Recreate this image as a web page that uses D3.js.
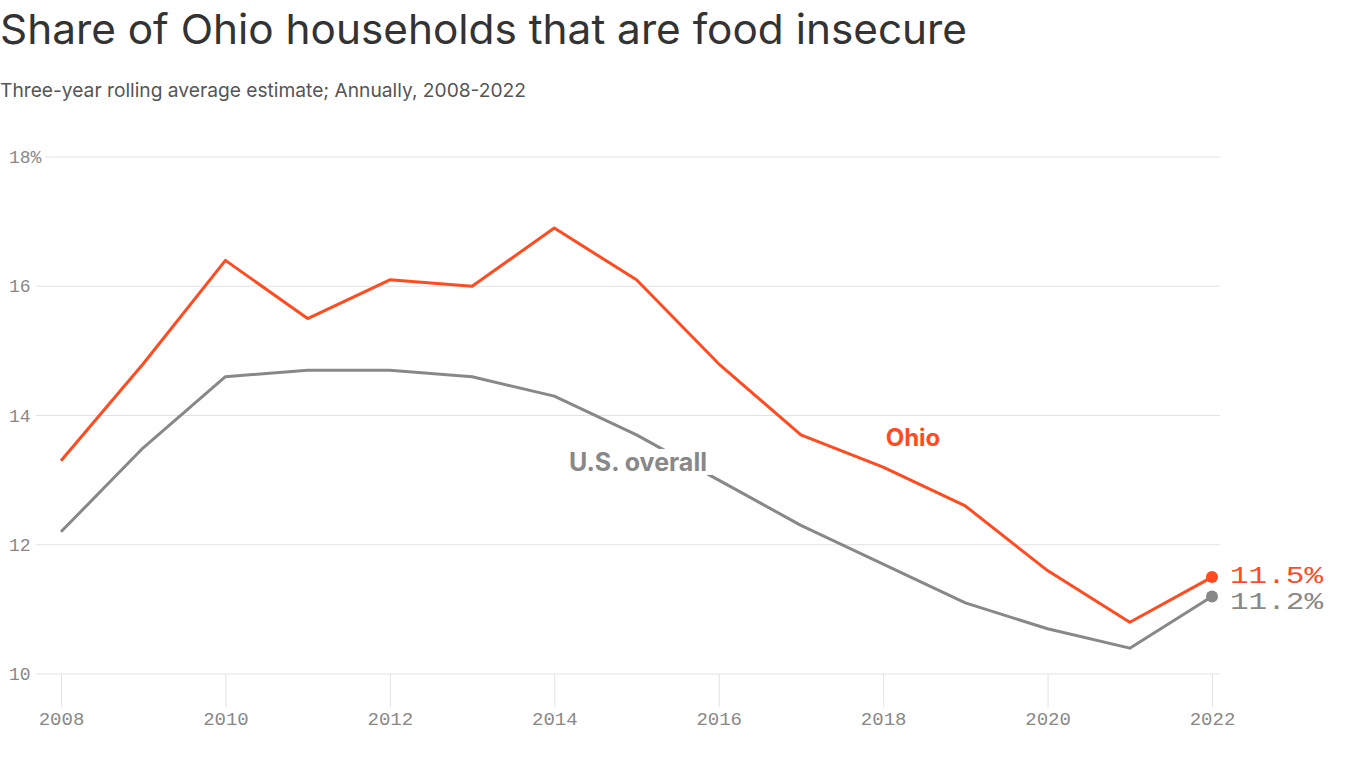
<!DOCTYPE html>
<html><head><meta charset="utf-8">
<script src="https://cdn.jsdelivr.net/npm/d3@7"></script>
<style>
body{margin:0;background:#fff;}
svg{display:block;}
</style></head>
<body>
<svg id="chart" width="1366" height="768"></svg>
<script>
const years = [2008,2009,2010,2011,2012,2013,2014,2015,2016,2017,2018,2019,2020,2021,2022];
const ohio = [13.3,14.8,16.4,15.5,16.1,16.0,16.9,16.1,14.8,13.7,13.2,12.6,11.6,10.8,11.5];
const us   = [12.2,13.5,14.6,14.7,14.7,14.6,14.3,13.7,13.0,12.3,11.7,11.1,10.7,10.4,11.2];
const yTicks = [10,12,14,16,18];
const xTicks = [2008,2010,2012,2014,2016,2018,2020,2022];
const title = "Share of Ohio households that are food insecure";
const subtitle = "Three-year rolling average estimate; Annually, 2008-2022";

const ORANGE = "#ff4b1f", GRAY = "#888888";
const mono = "'Liberation Mono', 'DejaVu Sans Mono', monospace";
const sans = "Inter, Roboto, 'Noto Sans', sans-serif";

const svg = d3.select("#chart");
const x = d3.scaleLinear().domain([2008,2022]).range([61,1212]);
const y = d3.scaleLinear().domain([10,18]).range([674,157]);

// title
svg.append("text").attr("x",0).attr("y",44)
  .attr("font-family",sans).attr("font-size",41).attr("fill","#333")
  .attr("textLength",967).attr("lengthAdjust","spacingAndGlyphs").text(title);
svg.append("text").attr("x",0).attr("y",97)
  .attr("font-family",sans).attr("font-size",19).attr("fill","#555")
  .attr("textLength",526).attr("lengthAdjust","spacingAndGlyphs")
  .text(subtitle);

// y grid + labels
const gridG = svg.append("g");
const ylabG = svg.append("g");
yTicks.forEach(v=>{
  const lbl = ylabG.append("text").attr("x",9).attr("y",y(v)+6)
    .attr("font-family",mono).attr("font-size",18).attr("fill","#888")
    .text(v===18 ? "18%" : String(v));
  const w = lbl.node().getComputedTextLength();
  gridG.append("line").attr("x1",Math.max(36,9+w+4)).attr("x2",1220)
    .attr("y1",y(v)).attr("y2",y(v)).attr("stroke","#e2e2e2").attr("stroke-width",1);
});

// x axis
const xAxis = d3.axisBottom(x).tickValues(xTicks).tickFormat(d3.format("d"))
  .tickSize(33).tickSizeOuter(0).tickPadding(5);
const xg = svg.append("g").attr("transform",`translate(0,${y(10)})`).call(xAxis);
xg.select(".domain").remove();
xg.selectAll(".tick line").attr("stroke","#e2e2e2");
xg.selectAll(".tick text").attr("font-family",mono).attr("font-size",19).attr("fill","#888");

// lines
const line = d3.line().x((d,i)=>x(years[i])).y(d=>y(d));
svg.append("path").datum(us).attr("d",line).attr("fill","none")
  .attr("stroke",GRAY).attr("stroke-width",3).attr("stroke-linejoin","round");

// US label with white background
const bgG = svg.append("g");
const usLbl = svg.append("text").attr("x",638).attr("y",471).attr("text-anchor","middle")
  .attr("font-family",sans).attr("font-weight",700).attr("font-size",25).attr("fill",GRAY)
  .text("U.S. overall");
const bb = usLbl.node().getBBox();
bgG.append("rect").attr("x",bb.x-5).attr("y",bb.y+2).attr("width",bb.width+10)
  .attr("height",bb.height-4).attr("fill","#fff");

svg.append("path").datum(ohio).attr("d",line).attr("fill","none")
  .attr("stroke",ORANGE).attr("stroke-width",3).attr("stroke-linejoin","round");

// end dots
const last = years.length-1;
svg.append("circle").attr("cx",x(years[last])).attr("cy",y(us[last])).attr("r",6).attr("fill",GRAY);
svg.append("circle").attr("cx",x(years[last])).attr("cy",y(ohio[last])).attr("r",6).attr("fill",ORANGE);
svg.append("text").attr("x",x(years[last])+18).attr("y",y(ohio[last])+6)
  .attr("font-family",mono).attr("font-size",24).attr("fill",ORANGE)
  .attr("textLength",93).attr("lengthAdjust","spacingAndGlyphs").text(ohio[last].toFixed(1)+"%");
svg.append("text").attr("x",x(years[last])+18).attr("y",y(us[last])+13)
  .attr("font-family",mono).attr("font-size",24).attr("fill",GRAY)
  .attr("textLength",93).attr("lengthAdjust","spacingAndGlyphs").text(us[last].toFixed(1)+"%");

svg.append("text").attr("x",913).attr("y",446).attr("text-anchor","middle")
  .attr("font-family",sans).attr("font-weight",700).attr("font-size",24).attr("fill",ORANGE)
  .text("Ohio");
</script>
</body></html>
